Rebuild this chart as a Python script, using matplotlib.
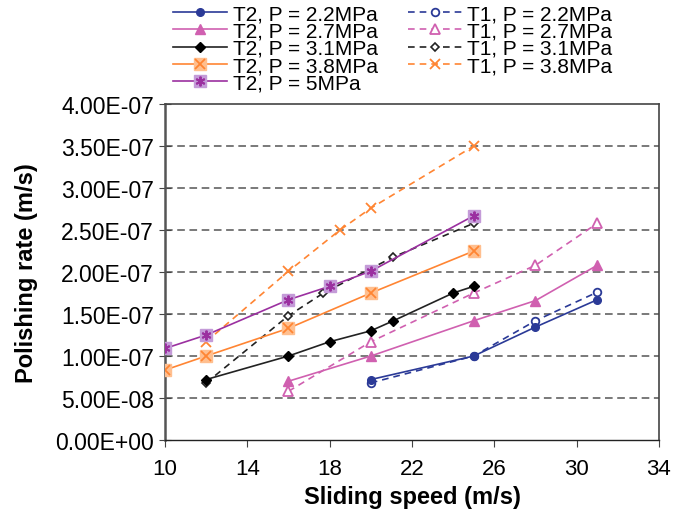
import numpy as np
import matplotlib.pyplot as plt
from matplotlib.ticker import FuncFormatter

plt.rcParams['font.family'] = ['Liberation Sans', 'DejaVu Sans']

# T2 series (solid lines)
x_t2_22 = [20, 25, 28, 31]
y_t2_22 = [7.2e-8, 1.0e-7, 1.345e-7, 1.67e-7]
x_t2_27 = [16, 20, 25, 28, 31]
y_t2_27 = [7.0e-8, 1.0e-7, 1.42e-7, 1.66e-7, 2.08e-7]
x_t2_31 = [12, 16, 18, 20, 21.1, 24, 25]
y_t2_31 = [7.2e-8, 1.0e-7, 1.17e-7, 1.30e-7, 1.42e-7, 1.75e-7, 1.83e-7]
x_t2_38 = [10, 12, 16, 20, 25]
y_t2_38 = [8.33e-8, 1.0e-7, 1.33e-7, 1.75e-7, 2.25e-7]
x_t2_50 = [10, 12, 16, 18, 20, 25]
y_t2_50 = [1.09e-7, 1.25e-7, 1.67e-7, 1.83e-7, 2.01e-7, 2.67e-7]

# T1 series (dashed lines)
x_t1_22 = [20, 25, 28, 31]
y_t1_22 = [6.8e-8, 1.0e-7, 1.42e-7, 1.76e-7]
x_t1_27 = [16, 20, 25, 28, 31]
y_t1_27 = [5.8e-8, 1.17e-7, 1.75e-7, 2.08e-7, 2.58e-7]
x_t1_31 = [12, 16, 17.7, 21.1, 25]
y_t1_31 = [6.8e-8, 1.48e-7, 1.75e-7, 2.18e-7, 2.58e-7]
x_t1_38 = [12, 16, 18.5, 20, 25]
y_t1_38 = [1.17e-7, 2.01e-7, 2.5e-7, 2.76e-7, 3.5e-7]

BLUE = '#2B3A97'
PINK = '#D060B0'
BLACK = '#222222'
ORANGE = '#FF8533'
ORANGE_FACE = '#FFBF8F'
PURPLE = '#9B30A0'
PURPLE_FACE = '#C49BD8'
DASH = (0, (4, 3))

fig = plt.figure(figsize=(6.86, 5.10), dpi=100)
ax = fig.add_axes([0.2405, 0.1353, 0.7201, 0.6587])

# horizontal dashed grid
for v in np.arange(5e-8, 4e-7, 5e-8):
    ax.axhline(v, color='#555555', lw=1.1, ls=(0, (5, 3)), zorder=1)

lw = 1.2
h_t1_22, = ax.plot(x_t1_22, y_t1_22, ls=DASH, color=BLUE, lw=lw, marker='o', ms=5.5,
                   mfc='white', mec=BLUE, mew=1.3, zorder=3)
h_t1_27, = ax.plot(x_t1_27, y_t1_27, ls=DASH, color=PINK, lw=lw, marker='^', ms=6.5,
                   mfc='white', mec=PINK, mew=1.3, zorder=3)
h_t1_31, = ax.plot(x_t1_31, y_t1_31, ls=DASH, color=BLACK, lw=lw, marker='D', ms=4.5,
                   mfc='white', mec=BLACK, mew=1.2, zorder=3)
h_t1_38, = ax.plot(x_t1_38, y_t1_38, ls=DASH, color=ORANGE, lw=lw, marker='x', ms=7.5,
                   mec=ORANGE, mew=1.3, zorder=3)

h_t2_22, = ax.plot(x_t2_22, y_t2_22, color=BLUE, lw=lw, marker='o', ms=5.5,
                   mfc=BLUE, mec=BLUE, zorder=4)
h_t2_27, = ax.plot(x_t2_27, y_t2_27, color=PINK, lw=lw, marker='^', ms=6.5,
                   mfc=PINK, mec=PINK, zorder=4)
h_t2_31, = ax.plot(x_t2_31, y_t2_31, color=BLACK, lw=lw, marker='D', ms=5,
                   mfc='black', mec='black', zorder=4)
h_t2_38a, = ax.plot(x_t2_38, y_t2_38, color=ORANGE, lw=lw, marker='s', ms=8,
                    mfc=ORANGE_FACE, mec=ORANGE_FACE, zorder=4)
h_t2_38b, = ax.plot(x_t2_38, y_t2_38, ls='none', marker='x', ms=6.5,
                    mec=ORANGE, mew=1.3, zorder=5)
h_t2_50a, = ax.plot(x_t2_50, y_t2_50, color=PURPLE, lw=lw, marker='s', ms=8,
                    mfc=PURPLE_FACE, mec=PURPLE_FACE, zorder=4)
h_t2_50b, = ax.plot(x_t2_50, y_t2_50, ls='none', marker=(6, 2, 0), ms=7,
                    mec=PURPLE, mew=1.4, zorder=5)

handles = [h_t2_22, h_t2_27, h_t2_31, (h_t2_38a, h_t2_38b), (h_t2_50a, h_t2_50b),
           h_t1_22, h_t1_27, h_t1_31, h_t1_38]
labels = ['T2, P = 2.2MPa', 'T2, P = 2.7MPa', 'T2, P = 3.1MPa', 'T2, P = 3.8MPa',
          'T2, P = 5MPa', 'T1, P = 2.2MPa', 'T1, P = 2.7MPa', 'T1, P = 3.1MPa',
          'T1, P = 3.8MPa']
fig.legend(handles, labels, ncol=2, loc='upper left', bbox_to_anchor=(0.2405, 1.006),
           frameon=False, fontsize=15, labelspacing=-0.08, handlelength=2.6,
           handletextpad=0.25, columnspacing=1.45, borderaxespad=0)

ax.set_xlim(10, 34)
ax.set_ylim(0, 4e-7)
ax.set_xticks(np.arange(10, 35, 4))
ax.set_yticks(np.arange(0, 4.01e-7, 5e-8))
ax.yaxis.set_major_formatter(FuncFormatter(lambda v, p: '%.2E' % v))
ax.tick_params(axis='y', direction='inout', length=8, labelsize=16.5, color='#444444', pad=4)
ax.tick_params(axis='x', direction='out', length=5, labelsize=16, color='#444444', pad=8)

ax.spines['left'].set_color('#555555')
ax.spines['left'].set_linewidth(1.8)
for s in ['top', 'right']:
    ax.spines[s].set_color('#444444')
    ax.spines[s].set_linewidth(1.2)
ax.spines['bottom'].set_color('#222222')
ax.spines['bottom'].set_linewidth(1.0)

ax.set_xlabel('Sliding speed (m/s)', fontsize=17, fontweight='bold', labelpad=4)
ax.set_ylabel('Polishing rate (m/s)', fontsize=17, fontweight='bold', labelpad=12)

fig.savefig('out.png', dpi=100)
